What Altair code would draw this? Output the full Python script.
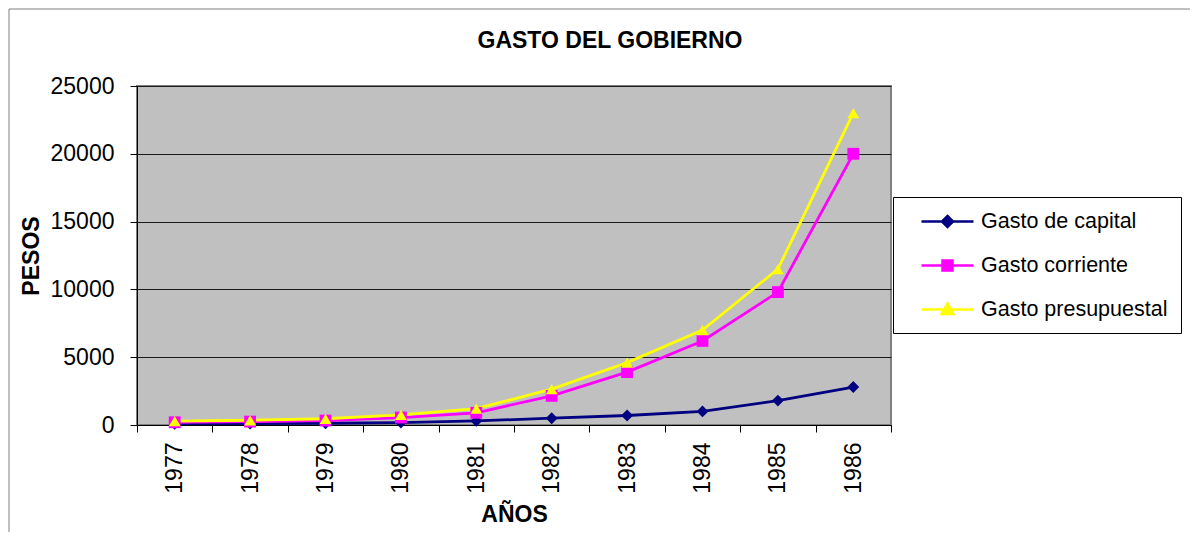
import altair as alt
import pandas as pd

years = [1977, 1978, 1979, 1980, 1981, 1982, 1983, 1984, 1985, 1986]
series_names = ["Gasto de capital", "Gasto corriente", "Gasto presupuestal"]
gasto_capital = [80, 100, 130, 180, 300, 500, 700, 1000, 1800, 2800]
gasto_corriente = [200, 250, 330, 550, 900, 2150, 3900, 6200, 9800, 20000]
gasto_presupuestal = [280, 350, 460, 750, 1200, 2650, 4600, 7000, 11500, 23000]
y_ticks = [0, 5000, 10000, 15000, 20000, 25000]

colors = ["#000080", "#FF00FF", "#FFFF00"]
marker_shapes = ["diamond", "square", "triangle-up"]
legend_shapes = [
    "M-2.6,0H2.6M0,-0.55L0.55,0L0,0.55L-0.55,0Z",
    "M-2.6,0H2.6M-0.5,-0.5H0.5V0.5H-0.5Z",
    "M-2.6,0H2.6M0,-0.6L0.6,0.45L-0.6,0.45Z",
]

rows = []
for name, vals in zip(series_names, [gasto_capital, gasto_corriente, gasto_presupuestal]):
    for yr, v in zip(years, vals):
        rows.append({"year": yr, "series": name, "value": v})
df = pd.DataFrame(rows)

FONT = "Arial, Liberation Sans, sans-serif"

x_enc = alt.X(
    "year:O",
    scale=alt.Scale(type="band", paddingInner=0, paddingOuter=0),
    bandPosition=0.5,
    axis=alt.Axis(
        title="AÑOS",
        labelAngle=-90,
        tickBand="extent",
        tickSize=7,
        labelPadding=10,
        titlePadding=10,
        labelFontSize=23,
        titleFontSize=23,
        grid=False,
    ),
)
y_enc = alt.Y(
    "value:Q",
    scale=alt.Scale(domain=[0, 25000], nice=False),
    axis=alt.Axis(
        title="PESOS",
        values=y_ticks,
        format="d",
        tickSize=7,
        labelPadding=16,
        titlePadding=7,
        labelFontSize=23,
        titleFontSize=23,
        grid=True,
        gridColor="#1a1a1a",
        gridWidth=1,
    ),
)
color_enc = alt.Color("series:N", scale=alt.Scale(domain=series_names, range=colors), legend=None)

base = alt.Chart(df)

border = alt.Chart(alt.Data(values=[{"a": 1}])).mark_rect(
    fill="transparent", stroke="#808080", strokeWidth=1
).encode(
    x=alt.value(-128), x2=alt.value(1060), y=alt.value(-77), y2=alt.value(470)
)

lines = base.mark_line(strokeWidth=2.8).encode(x=x_enc, y=y_enc, color=color_enc)

points = base.mark_point(filled=True, size=140, opacity=1).encode(
    x=x_enc,
    y=y_enc,
    color=color_enc,
    shape=alt.Shape("series:N", scale=alt.Scale(domain=series_names, range=marker_shapes), legend=None),
)

legend_layer = base.transform_filter("datum.value < 0").mark_point(
    filled=True, size=400, strokeWidth=2.5, opacity=1
).encode(
    x=x_enc,
    y=y_enc,
    fill=alt.Fill(
        "series:N",
        scale=alt.Scale(domain=series_names, range=colors),
        legend=alt.Legend(title=None),
    ),
    stroke=alt.Stroke(
        "series:N",
        scale=alt.Scale(domain=series_names, range=colors),
        legend=alt.Legend(title=None),
    ),
    shape=alt.Shape(
        "series:N",
        scale=alt.Scale(domain=series_names, range=legend_shapes),
        legend=alt.Legend(
            title=None,
            orient="none",
            legendX=756,
            legendY=111,
            padding=13,
            symbolOffset=30,
            labelOffset=22,
            rowPadding=22,
            labelFontSize=21.5,
            labelFont=FONT,
            labelColor="#000000",
            strokeColor="#000000",
            fillColor="#FFFFFF",
            symbolSize=400,
            symbolStrokeWidth=2.5,
            labelLimit=400,
        ),
    ),
)

chart = (
    alt.layer(border, lines, points, legend_layer)
    .resolve_scale(shape="independent", fill="independent", stroke="independent")
    .resolve_legend(shape="independent", fill="independent", stroke="independent")
    .properties(
        width=754,
        height=339,
        autosize=alt.AutoSizeParams(type="none"),
        padding={"left": 129, "top": 78, "right": 299, "bottom": 107},
        background="white",
        title=alt.TitleParams(
            "GASTO DEL GOBIERNO",
            fontSize=23,
            fontWeight="bold",
            font=FONT,
            anchor="middle",
            baseline="bottom",
            dx=96,
            offset=-67,
            color="#000000",
        ),
    )
    .configure_view(stroke="#808080", strokeWidth=2, fill="#C0C0C0")
    .configure_axis(
        labelFont=FONT,
        titleFont=FONT,
        labelColor="#000000",
        titleColor="#000000",
        titleFontWeight="bold",
        domainColor="#000000",
        tickColor="#000000",
        domainWidth=1,
        tickWidth=1,
    )
)

chart.save("out.html", embed_options={"renderer": "svg", "actions": False})
